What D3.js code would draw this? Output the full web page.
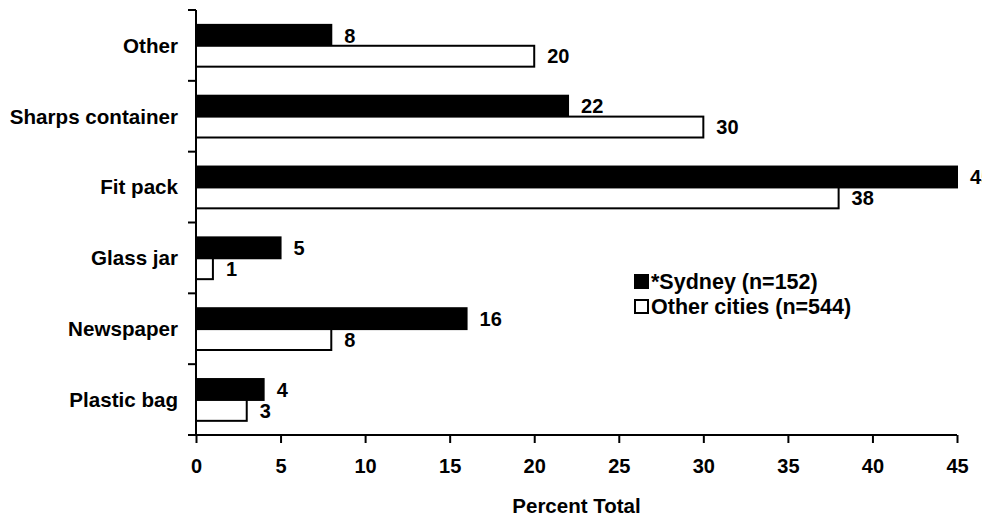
<!DOCTYPE html>
<html>
<head>
<meta charset="utf-8">
<script src="https://cdn.jsdelivr.net/npm/d3@7/dist/d3.min.js"></script>
<style>
  html, body { margin: 0; padding: 0; background: #fff; }
  svg { display: block; }
  text { font-family: "Liberation Sans", Arial, sans-serif; font-weight: bold; fill: #000; }
</style>
</head>
<body>
<svg id="chart" width="982" height="517"></svg>
<script>
const categories = ["Other", "Sharps container", "Fit pack", "Glass jar", "Newspaper", "Plastic bag"];
const seriesNames = ["*Sydney (n=152)", "Other cities (n=544)"];
const sydney = [8, 22, 45, 5, 16, 4];
const otherCities = [20, 30, 38, 1, 8, 3];
const xTicks = [0, 5, 10, 15, 20, 25, 30, 35, 40, 45];
const xTitle = "Percent Total";

const W = 982, H = 517;
const m = { left: 196, right: 25, top: 10, bottom: 82 };
const fs = 20;

const svg = d3.select("#chart");
svg.append("rect").attr("width", W).attr("height", H).attr("fill", "#fff");

const x = d3.scaleLinear().domain([0, 45]).range([m.left, W - m.right]);
const y0 = d3.scaleBand().domain(categories).range([m.top, H - m.bottom]).padding(0);
const bw = y0.bandwidth();
const y1 = d3.scaleBand().domain(seriesNames).range([bw * 0.21, bw * 0.80]).padding(0);

const fills = ["#000", "#fff"];
const seriesData = [sydney, otherCities];

// bars
seriesNames.forEach((s, si) => {
  const g = svg.append("g");
  g.selectAll("rect").data(categories).join("rect")
    .attr("x", x(0))
    .attr("y", c => y0(c) + y1(s))
    .attr("width", (c, i) => x(seriesData[si][i]) - x(0))
    .attr("height", y1.bandwidth())
    .attr("fill", fills[si])
    .attr("stroke", "#000")
    .attr("stroke-width", 2);
  g.selectAll("text").data(categories).join("text")
    .attr("x", (c, i) => x(seriesData[si][i]) + 13)
    .attr("y", c => y0(c) + y1(s) + y1.bandwidth() / 2)
    .attr("dy", "0.36em")
    .attr("font-size", fs)
    .text((c, i) => seriesData[si][i]);
});

// y axis (manual: ticks at band boundaries)
const yAxis = svg.append("g");
yAxis.append("line")
  .attr("x1", x(0)).attr("x2", x(0))
  .attr("y1", y0.range()[0]).attr("y2", y0.range()[1])
  .attr("stroke", "#000").attr("stroke-width", 2);
const bounds = categories.map(c => y0(c)).concat([y0.range()[1]]);
yAxis.selectAll("line.tk").data(bounds).join("line").attr("class", "tk")
  .attr("x1", x(0) - 8).attr("x2", x(0))
  .attr("y1", d => d).attr("y2", d => d)
  .attr("stroke", "#000").attr("stroke-width", 2);
yAxis.selectAll("text").data(categories).join("text")
  .attr("x", x(0) - 18)
  .attr("y", c => y0(c) + bw / 2)
  .attr("dy", "0.36em")
  .attr("text-anchor", "end")
  .attr("font-size", 20.6)
  .text(c => c);

// x axis
const xAxis = svg.append("g").attr("transform", `translate(0,${H - m.bottom})`)
  .call(d3.axisBottom(x).tickValues(xTicks).tickSize(8).tickSizeOuter(0).tickPadding(16));
xAxis.select(".domain").attr("stroke", "#000").attr("stroke-width", 2)
  .attr("d", `M${x(0) - 8},0H${x(45)}`);
xAxis.selectAll(".tick line").attr("stroke", "#000").attr("stroke-width", 2);
xAxis.selectAll(".tick text")
  .attr("font-size", fs)
  .attr("font-family", "Liberation Sans, Arial, sans-serif")
  .attr("font-weight", "bold")
  .attr("fill", "#000");

svg.append("text")
  .attr("x", (x(0) + x(45)) / 2)
  .attr("y", 512.5)
  .attr("text-anchor", "middle")
  .attr("font-size", 20.5)
  .text(xTitle);

// legend
const leg = svg.append("g").attr("transform", "translate(634,274)");
seriesNames.forEach((s, i) => {
  const gy = i * 25;
  leg.append("rect")
    .attr("x", 1).attr("y", gy + 1)
    .attr("width", 13).attr("height", 13)
    .attr("fill", fills[i]).attr("stroke", "#000").attr("stroke-width", 2);
  leg.append("text")
    .attr("x", 17).attr("y", gy + 7.5)
    .attr("dy", "0.36em")
    .attr("font-size", 21.5)
    .text(s);
});
</script>
</body>
</html>
